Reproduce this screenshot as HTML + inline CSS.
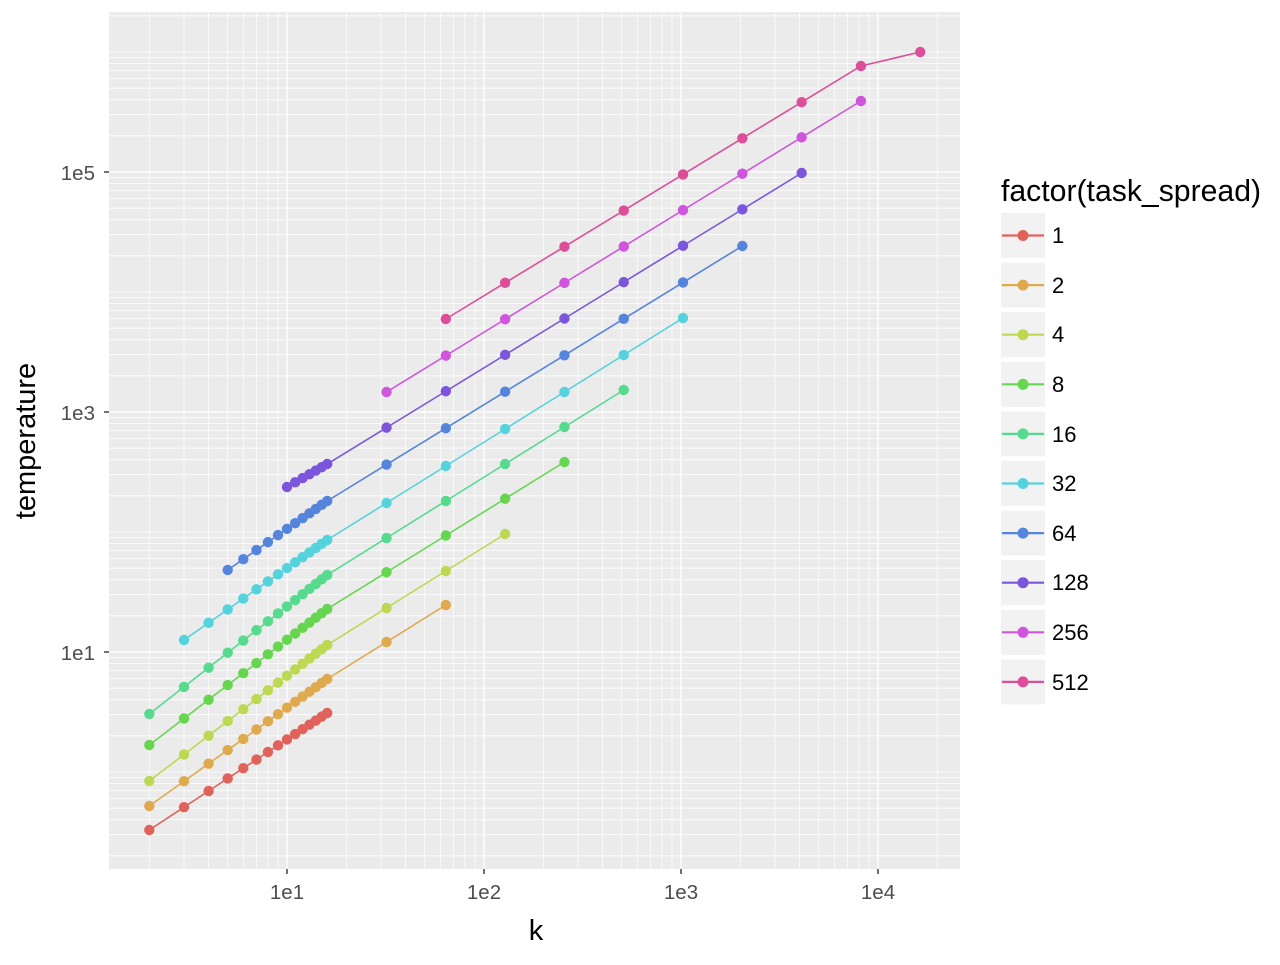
<!DOCTYPE html>
<html><head><meta charset="utf-8"><style>
body{margin:0;background:#fff;}
svg text{font-family:"Liberation Sans",sans-serif;}
</style></head><body>
<svg id="s" width="1280" height="960" xmlns="http://www.w3.org/2000/svg">
<rect x="109" y="12" width="851" height="857" fill="#ebebeb"/>
<g id="grid"></g>
<g id="data"></g>
<g fill="#4d4d4d" font-size="20.5" text-anchor="end">
<text x="95" y="180">1e5</text>
<text x="95" y="420">1e3</text>
<text x="95" y="660">1e1</text>
</g>
<g stroke="#333" stroke-width="1.4">
<line x1="104" x2="109" y1="172" y2="172"/><line x1="104" x2="109" y1="412" y2="412"/><line x1="104" x2="109" y1="652" y2="652"/>
<line x1="287" x2="287" y1="869" y2="874"/><line x1="484" x2="484" y1="869" y2="874"/><line x1="681" x2="681" y1="869" y2="874"/><line x1="878" x2="878" y1="869" y2="874"/>
</g>
<g fill="#4d4d4d" font-size="20.5" text-anchor="middle">
<text x="287" y="899">1e1</text><text x="484" y="899">1e2</text><text x="681" y="899">1e3</text><text x="878" y="899">1e4</text>
</g>
<text x="536" y="940" font-size="29" text-anchor="middle">k</text>
<text transform="translate(35,441) rotate(-90)" font-size="29" text-anchor="middle">temperature</text>
<text x="1001" y="201" font-size="30.2">factor(task_spread)</text>
<g id="leg"></g>
<g font-size="22" fill="#000">
<text x="1052" y="243">1</text><text x="1052" y="293">2</text><text x="1052" y="342">4</text><text x="1052" y="392">8</text><text x="1052" y="442">16</text><text x="1052" y="491">32</text><text x="1052" y="541">64</text><text x="1052" y="590">128</text><text x="1052" y="640">256</text><text x="1052" y="690">512</text>
</g>
</svg>
<script>
var NS="http://www.w3.org/2000/svg";
function el(p,t,a){var e=document.createElementNS(NS,t);for(var k in a)e.setAttribute(k,a[k]);p.appendChild(e);return e;}
function X(k){return 287+(Math.log10(k)-1)*197;}
function Y(v){return 652-(Math.log10(v)-1)*120;}
var g=document.getElementById("grid");
for(var n=-1;n<=6;n++)for(var m=1;m<=9;m++){var v=m*Math.pow(10,n);var y=Y(v);if(y>12&&y<869){var maj=(m==1&&n%2==1);el(g,"line",{x1:109,x2:960,y1:y,y2:y,stroke:"#fff","stroke-width":maj?1.3:0.7});}}
for(var n=0;n<=4;n++)for(var m=1;m<=9;m++){var v=m*Math.pow(10,n);var x=X(v);if(x>109&&x<960){var maj=(m==1);el(g,"line",{x1:x,x2:x,y1:12,y2:869,stroke:"#fff","stroke-width":maj?1.3:0.7});}}
var S=[
["#e0625b",2,830,713,16,713],
["#dfaa4e",2,806,679,64,605],
["#bdd851",2,781,645,128,534],
["#66d651",2,745,609,256,462],
["#55da8e",2,714,575,512,390],
["#55d3dc",3,640,540,1024,318],
["#5584dc",5,570,501,2048,246],
["#7b55dc",10,487,464,4096,173],
["#ce55dc",32,392,null,8192,101],
["#dc4f98",64,319,null,8192,66]
];
var d=document.getElementById("data");
S.forEach(function(s){
 var ks=[];
 if(s[1]<16){for(var k=s[1];k<=16;k++)ks.push(k);for(var k=32;k<=s[4];k*=2)ks.push(k);}
 else{for(var k=s[1];k<=s[4];k*=2)ks.push(k);}
 var pts=ks.map(function(k){var y;
  if(s[3]!==null&&k<=16){y=s[2]+(s[3]-s[2])*Math.log(k/s[1])/Math.log(16/s[1]);}
  else if(s[3]!==null){y=s[3]+(s[5]-s[3])*Math.log(k/16)/Math.log(s[4]/16);}
  else{y=s[2]+(s[5]-s[2])*Math.log(k/s[1])/Math.log(s[4]/s[1]);}
  return [X(k),y];});
 if(s[0]=="#dc4f98")pts.push([X(16384),52]);
 el(d,"polyline",{points:pts.map(function(p){return p.join(",")}).join(" "),fill:"none",stroke:s[0],"stroke-width":1.6});
 pts.forEach(function(p){el(d,"circle",{cx:p[0],cy:p[1],r:5.2,fill:s[0]});});
});
var L=document.getElementById("leg");
S.forEach(function(s,i){var y=213+i*49.6;
 el(L,"rect",{x:1001,y:y,width:44,height:45,fill:"#f2f2f2"});
 el(L,"line",{x1:1002,x2:1044,y1:y+22.5,y2:y+22.5,stroke:s[0],"stroke-width":2.2});
 el(L,"circle",{cx:1023,cy:y+22.5,r:5.5,fill:s[0]});
});
</script>
</body></html>
